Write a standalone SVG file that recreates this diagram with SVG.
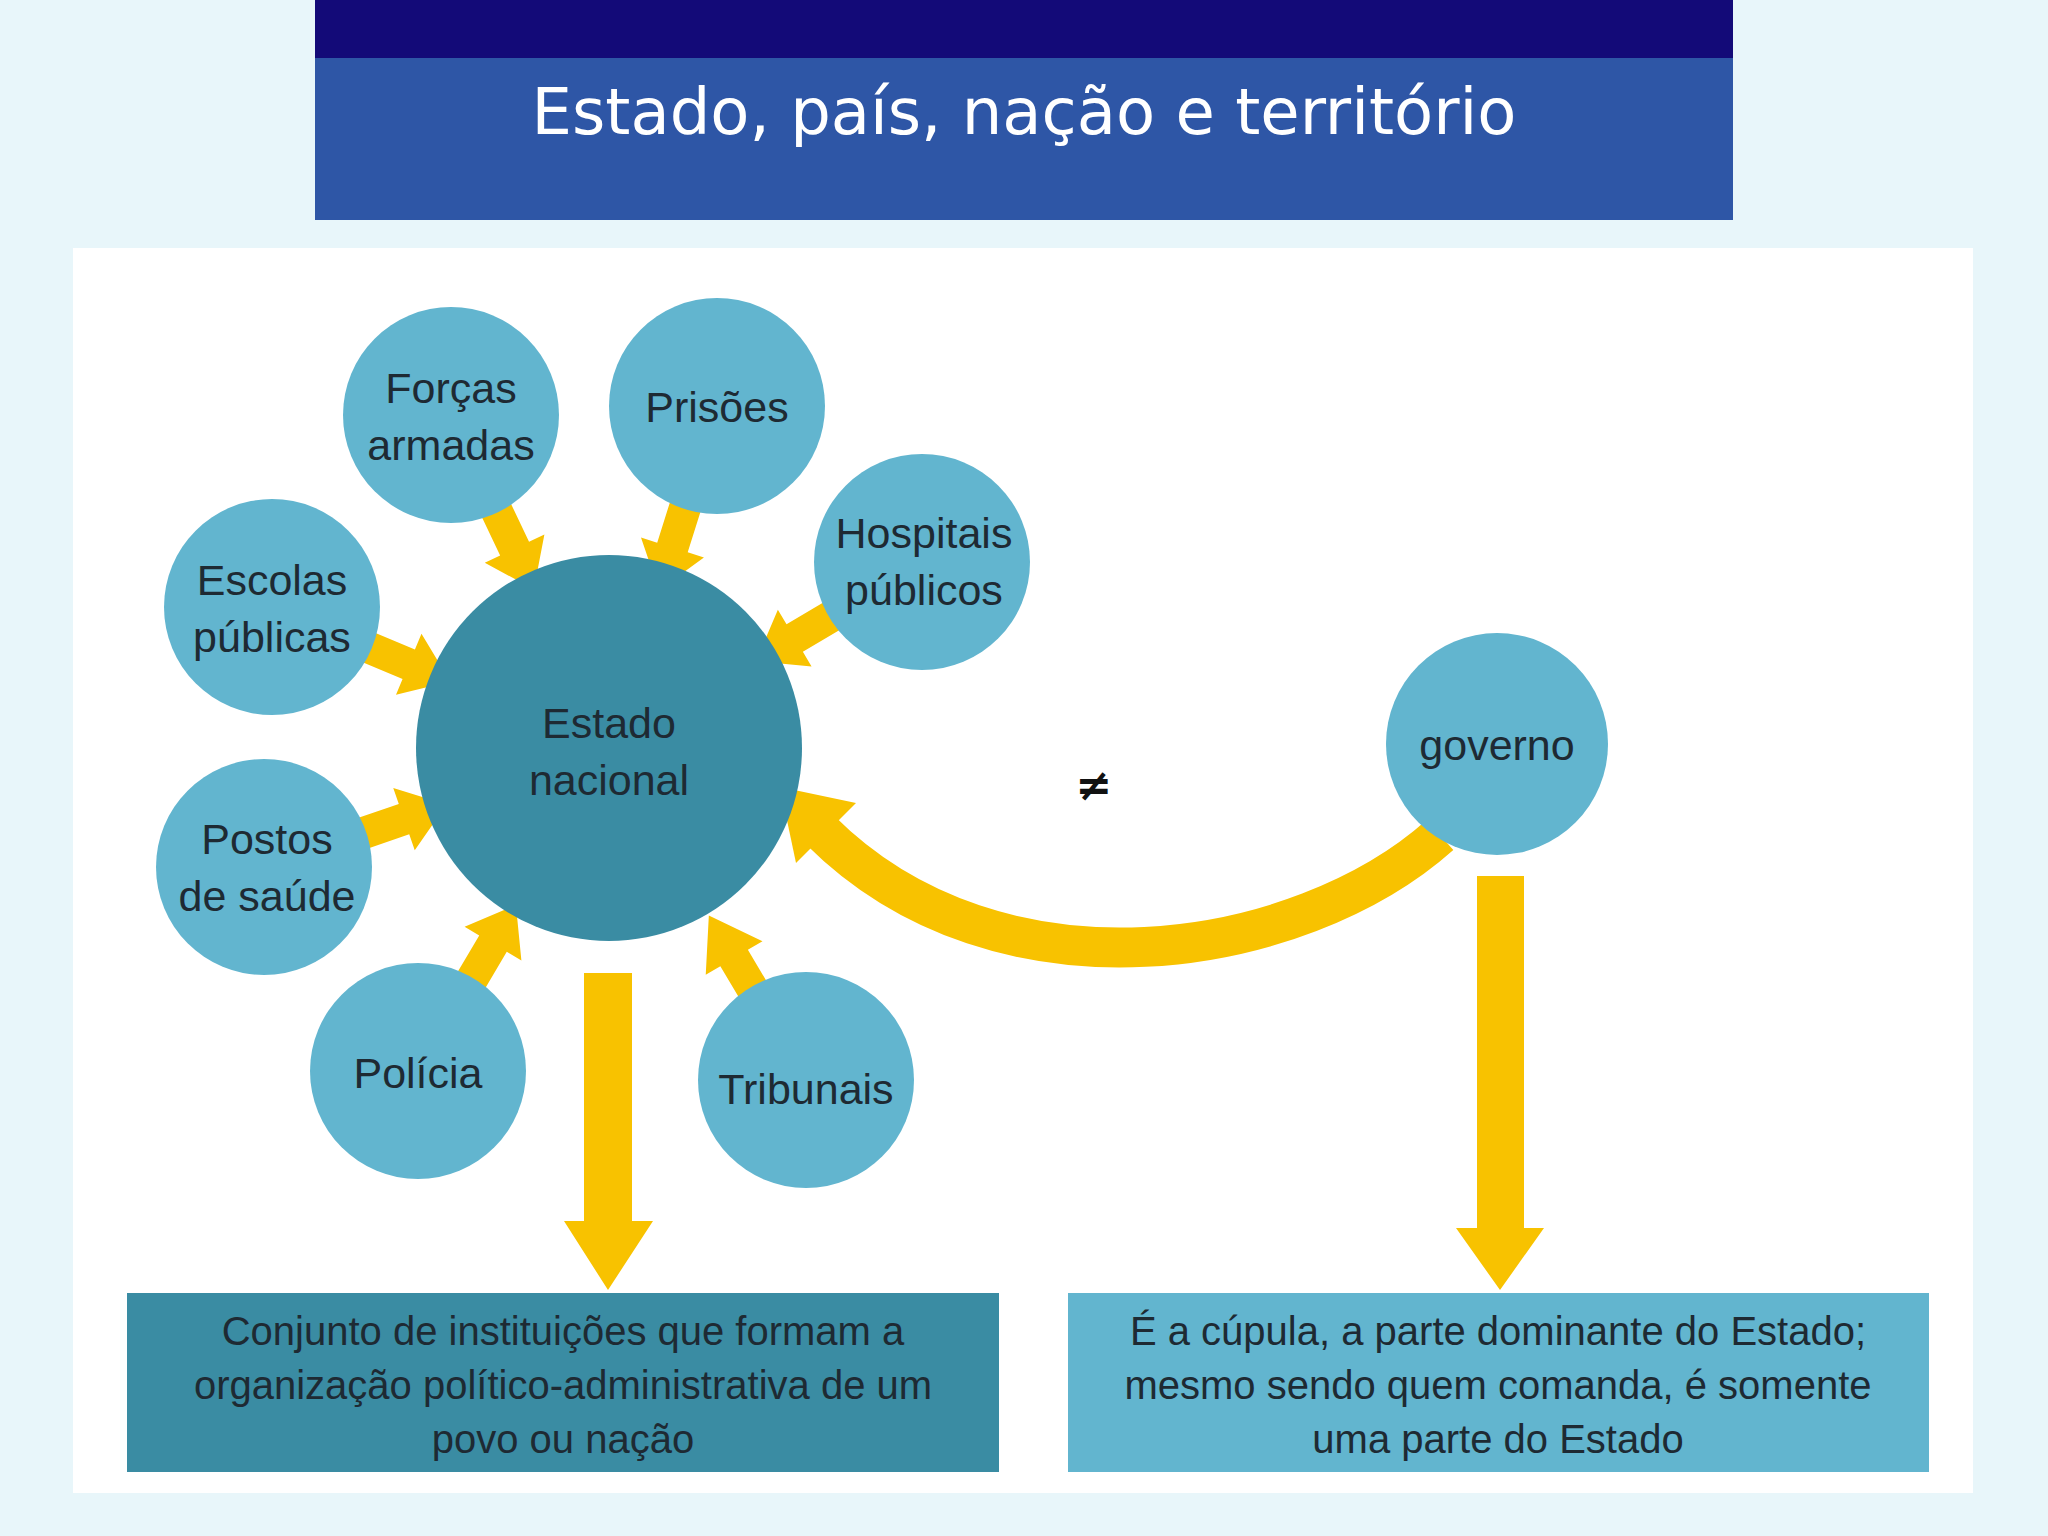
<svg xmlns="http://www.w3.org/2000/svg" width="2048" height="1536" viewBox="0 0 2048 1536">
<style>
.c{fill:#62b5cf}
.t{font-family:"Liberation Sans",Arial,sans-serif;font-size:43px;fill:#1e2a33;text-anchor:middle}
.b{font-family:"Liberation Sans",Arial,sans-serif;font-size:40px;fill:#1e2a33;text-anchor:middle}
.y{fill:#f8c200}
</style>
<defs>
<polygon id="ar" points="0,-16 55,-16 55,-33 100,0 55,33 55,16 0,16" fill="#f8c200"/>
</defs>
<rect width="2048" height="1536" fill="#e8f6fa"/>
<rect x="315" y="0" width="1418" height="58" fill="#130a78"/>
<rect x="315" y="58" width="1418" height="162" fill="#2e56a6"/>
<text x="1024" y="134" font-family="'DejaVu Sans',sans-serif" font-size="64" fill="#fff" text-anchor="middle">Estado, país, nação e território</text>
<rect x="73" y="248" width="1900" height="1245" fill="#fff"/>
<g id="connectors">
<use href="#ar" transform="translate(491,499) rotate(64.6)"/>
<use href="#ar" transform="translate(689,495) rotate(107.5)"/>
<use href="#ar" transform="translate(842,610) rotate(149.3)"/>
<use href="#ar" transform="translate(358,643) rotate(22.7)"/>
<use href="#ar" transform="translate(352,837) rotate(-19)"/>
<use href="#ar" transform="translate(465,991) rotate(-59.4)"/>
<use href="#ar" transform="translate(765,1010) rotate(-120.7) scale(1.1,1)"/>
<path d="M1440,835 C1300,960 1000,1010 820,830" fill="none" stroke="#f8c200" stroke-width="40"/>
<polygon class="y" points="780,787 856,803 796,863"/>
<polygon class="y" points="584,973 632,973 632,1221 653,1221 608,1290 564,1221 584,1221"/>
<polygon class="y" points="1477,876 1524,876 1524,1228 1544,1228 1500,1290 1456,1228 1477,1228"/>
</g>
<g id="estado"><circle cx="609" cy="748" r="193" fill="#3a8ca3"/><text class="t" x="609" y="738">Estado</text><text class="t" x="609" y="795">nacional</text></g>
<g id="forcas"><circle class="c" cx="451" cy="415" r="108"/><text class="t" x="451" y="403">Forças</text><text class="t" x="451" y="460">armadas</text></g>
<g id="prisoes"><circle class="c" cx="717" cy="406" r="108"/><text class="t" x="717" y="422">Prisões</text></g>
<g id="hospitais"><circle class="c" cx="922" cy="562" r="108"/><text class="t" x="924" y="548">Hospitais</text><text class="t" x="924" y="605">públicos</text></g>
<g id="escolas"><circle class="c" cx="272" cy="607" r="108"/><text class="t" x="272" y="595">Escolas</text><text class="t" x="272" y="652">públicas</text></g>
<g id="postos"><circle class="c" cx="264" cy="867" r="108"/><text class="t" x="267" y="854">Postos</text><text class="t" x="267" y="911">de saúde</text></g>
<g id="policia"><circle class="c" cx="418" cy="1071" r="108"/><text class="t" x="418" y="1088">Polícia</text></g>
<g id="tribunais"><circle class="c" cx="806" cy="1080" r="108"/><text class="t" x="806" y="1104">Tribunais</text></g>
<g id="governo"><circle class="c" cx="1497" cy="744" r="111"/><text class="t" x="1497" y="760">governo</text></g>
<text x="1094" y="800" font-family="'DejaVu Sans',sans-serif" font-size="44" font-weight="bold" fill="#111" text-anchor="middle">≠</text>
<g id="box1"><rect x="127" y="1293" width="872" height="179" fill="#3a8ca3"/><text class="b" x="563" y="1345">Conjunto de instituições que formam a</text><text class="b" x="563" y="1399">organização político-administrativa de um</text><text class="b" x="563" y="1453">povo ou nação</text></g>
<g id="box2"><rect x="1068" y="1293" width="861" height="179" fill="#62b5cf"/><text class="b" x="1498" y="1345">É a cúpula, a parte dominante do Estado;</text><text class="b" x="1498" y="1399">mesmo sendo quem comanda, é somente</text><text class="b" x="1498" y="1453">uma parte do Estado</text></g>
</svg>
